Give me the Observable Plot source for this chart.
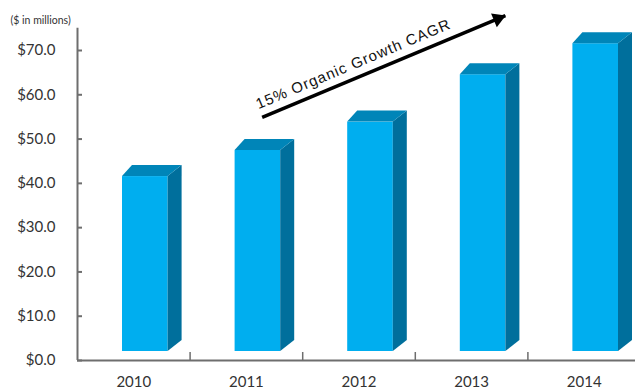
<!DOCTYPE html>
<html><head><meta charset="utf-8">
<script src="https://cdn.jsdelivr.net/npm/d3@7"></script>
<script src="https://cdn.jsdelivr.net/npm/@observablehq/plot@0.6"></script>
<style>
body{margin:0;background:#fff;}
#chart{width:635px;height:392px;}
</style></head><body><div id="chart"></div>
<script>
const years = [2010, 2011, 2012, 2013, 2014];
const revenue = [39.5, 45.4, 51.8, 62.5, 69.5];
const yTicks = [0, 10, 20, 30, 40, 50, 60, 70];
const unitNote = "($ in millions)";
const growthLabel = "15% Organic Growth CAGR";
const arrowStart = [2011.14, 54.9];
const arrowEnd = [2013.3, 77.9];
const labelAt = [2011.95, 66.9];

const data = years.map((year, i) => ({year, value: revenue[i]}));
const boundaries = years.slice(0, -1).map(y => y + 0.5);
const arrows = [{x1: arrowStart[0], y1: arrowStart[1], x2: arrowEnd[0], y2: arrowEnd[1]}];

const NS = "http://www.w3.org/2000/svg";
function extrude(index, scales, values, dims, ctx, next) {
  const g = next(index, scales, values, dims, ctx);
  for (const r of Array.from(g.querySelectorAll("rect"))) {
    const x = +r.getAttribute("x"), y = +r.getAttribute("y");
    const w = +r.getAttribute("width"), h = +r.getAttribute("height");
    const side = document.createElementNS(NS, "polygon");
    side.setAttribute("points", [[x + w, y], [x + w + 14, y - 11], [x + w + 14, y + h - 11], [x + w, y + h]].join(" "));
    side.setAttribute("fill", "#006f9c");
    const top = document.createElementNS(NS, "polygon");
    top.setAttribute("points", [[x, y], [x + w, y], [x + w + 14, y - 11], [x + 10, y - 11]].join(" "));
    top.setAttribute("fill", "#0085b8");
    r.parentNode.appendChild(side);
    r.parentNode.appendChild(top);
  }
  return g;
}

const axisColor = "#6e6e6e";
const textColor = "#333";
const angle = -22.8;

const chart = Plot.plot({
  width: 635,
  height: 392,
  marginLeft: 77,
  marginRight: 0,
  marginTop: 50,
  marginBottom: 32,
  x: {domain: [2009.5, 2014.5], range: [77, 640]},
  y: {domain: [0, 70], range: [360, 50]},
  style: {fontFamily: "Lato, sans-serif", background: "#fff", color: textColor},
  marks: [
    Plot.rectY(data, {x1: d => d.year - 0.5, x2: d => d.year + 0.5, y1: 0, y2: "value",
      insetLeft: 45, insetRight: 22, dy: -9, fill: "#00aeef", render: extrude}),
    Plot.ruleX([2009.5], {y1: 0, y2: 75, stroke: axisColor, strokeWidth: 2}),
    Plot.ruleY([0], {x1: 2009.5, x2: 2014.5, stroke: axisColor, strokeWidth: 2}),
    Plot.tickY(yTicks, {y: d => d, insetRight: 553, stroke: axisColor, strokeWidth: 2}),
    Plot.tickX(boundaries, {x: d => d, insetTop: 302, stroke: axisColor, strokeWidth: 1.5}),
    Plot.axisY(yTicks, {tickSize: 0, tickPadding: 22, tickFormat: d => "$" + d.toFixed(1),
      fontSize: 15, fill: textColor, label: null}),
    Plot.axisX(years, {tickSize: 0, tickPadding: 16, tickFormat: d => String(d),
      fontSize: 15, fill: textColor, label: null}),
    Plot.link(arrows, {x1: "x1", y1: "y1", x2: "x2", y2: "y2", stroke: "#000", strokeWidth: 3.5,
      strokeLinecap: "butt"}),
    Plot.dot(arrows, {x: "x2", y: "y2", symbol: "triangle", r: 5.5, rotate: 90 + angle,
      fill: "#000", stroke: "none", dx: -7.5, dy: 3.2}),
    Plot.text([growthLabel], {x: labelAt[0], y: labelAt[1], text: d => d, rotate: angle,
      fontSize: 15, fontFamily: "Liberation Sans, Arial, sans-serif", fill: "#111"}),
    Plot.text([unitNote], {frameAnchor: "top-left", text: d => d, textAnchor: "start",
      dx: -67, dy: -34, fontSize: 10.5, fill: textColor})
  ]
});
for (const t of chart.querySelectorAll("text")) {
  if (t.textContent === growthLabel) t.style.letterSpacing = "1px";
}
document.getElementById("chart").appendChild(chart);
</script></body></html>
